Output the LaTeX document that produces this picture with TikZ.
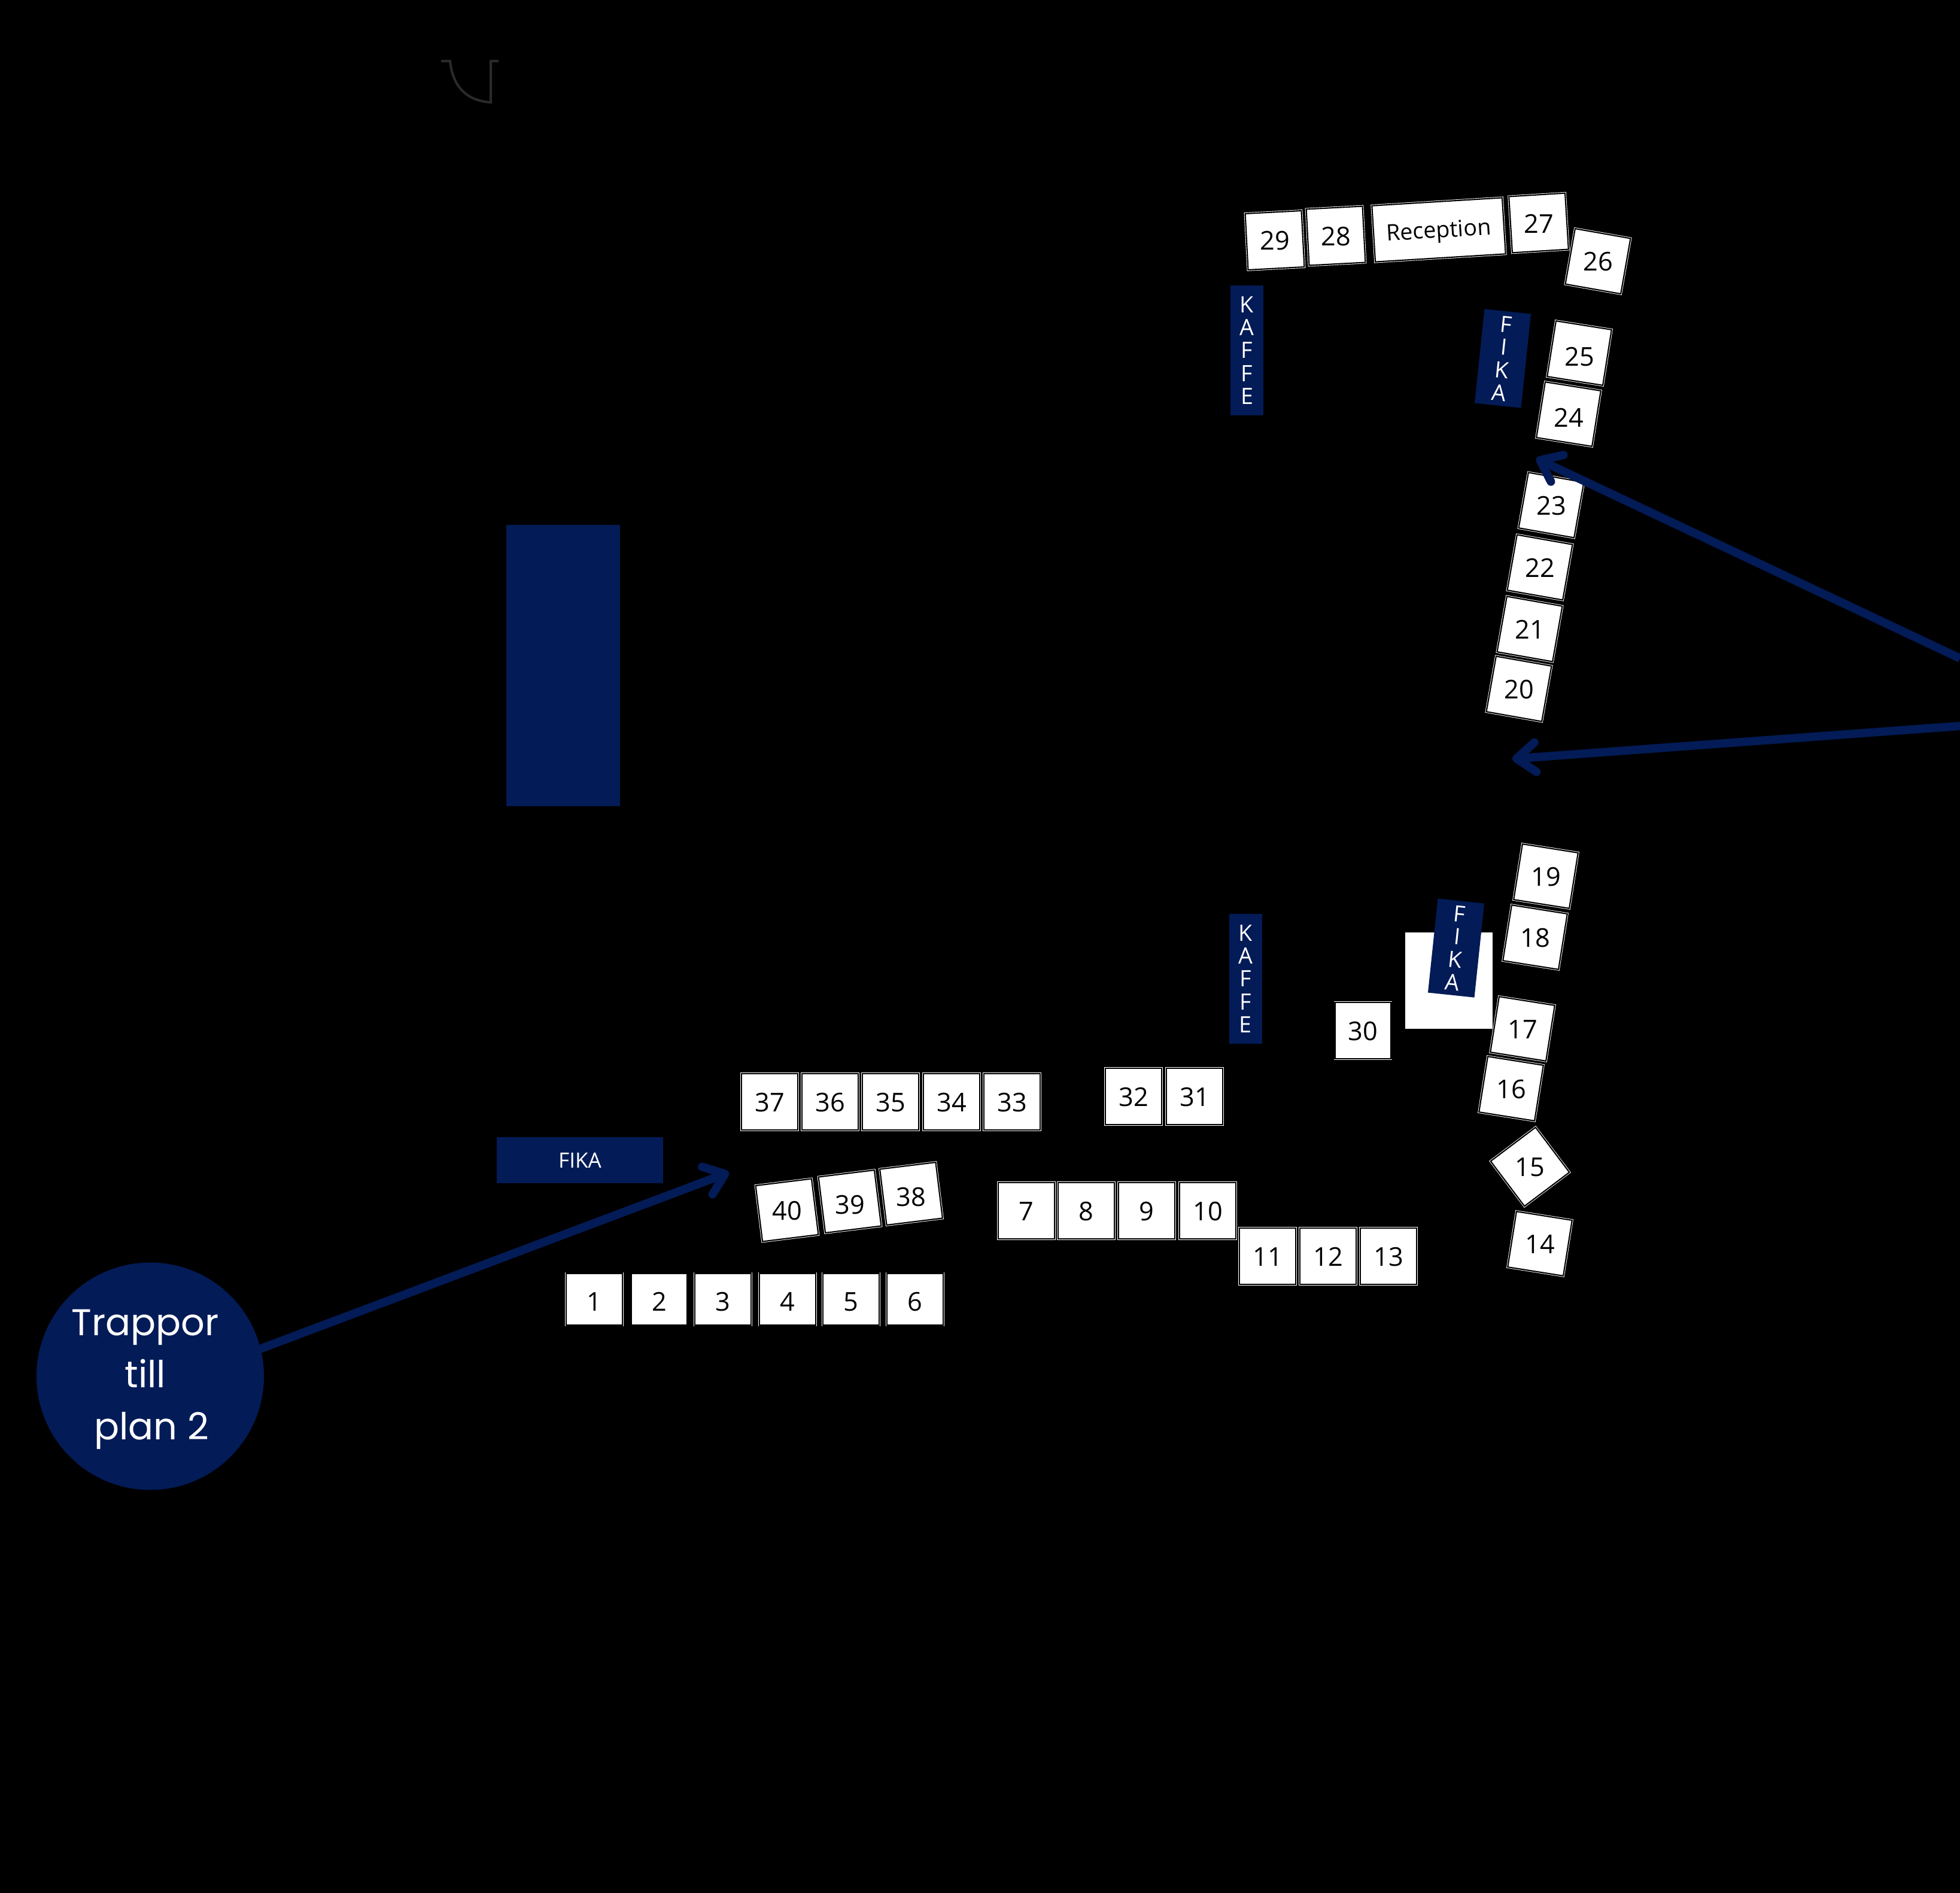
\documentclass[tikz,border=0pt]{standalone}
\usepackage{fontspec}
\setmainfont{Open Sans}
\newfontfamily\trappfont{Poppins}
\usetikzlibrary{arrows.meta, positioning}
\definecolor{fikablue}{RGB}{3, 27, 86}
\definecolor{arcgrey}{RGB}{42, 42, 42}
\def\picwidth{3275}
\def\picheight{3163}
\tikzset{
  stand/.style={rectangle, fill=white, draw=white, double=black, line width=0.25pt, double distance=0.6pt,
    inner sep=0pt, minimum width=9.4mm, minimum height=9.4mm},
  lowstand/.style={stand, minimum height=8.7mm},
  standnr/.style={inner sep=0pt, font=\fontsize{12.3}{14}\selectfont},
  fikabox/.style={rectangle, fill=fikablue, text=white, inner sep=0pt, align=center,
    font=\fontsize{10.7}{10.85}\selectfont},
  pil/.style={draw=fikablue, line width=1.4mm, line cap=round,
    -{Straight Barb[round, length=9pt, width=14pt]}}
}

\begin{document}
\begin{tikzpicture}[x=0.1mm, y=-0.1mm]
  %background and bounding box
    \fill[black] (0,0) rectangle (\picwidth,\picheight);
    \useasboundingbox (0,0) rectangle (\picwidth,\picheight);

    %door arc at the top
    \draw[arcgrey, line width=0.4mm] (737,102) -- (752,102) .. controls (756,140) and (775,168) .. (820,171) -- (820,102) -- (833,102);

    %navy area and white area
    \node[rectangle, fill=fikablue, inner sep=0pt, minimum width=19mm, minimum height=47mm] (omrade) at (941,1112) {};
    \node[rectangle, fill=white, inner sep=0pt, minimum width=14.6mm, minimum height=16.1mm] (vitruta) at (2421,1638.5) {};

    %fika and kaffe
    \node[fikabox, minimum width=5.5mm, minimum height=21.7mm] (kaffe1) at (2083.5,585.5) {K\\A\\F\\F\\E};
    \node[fikabox, minimum width=5.5mm, minimum height=21.7mm] (kaffe2) at (2081,1635.5) {K\\A\\F\\F\\E};
    \node[fikabox, minimum width=7.8mm, minimum height=15.8mm, rotate=-6] (fika1) at (2511,599) {F\\I\\K\\A};
    \node[fikabox, minimum width=7.8mm, minimum height=15.8mm, rotate=-6] (fika2) at (2433,1584) {F\\I\\K\\A};
    \node[fikabox, minimum width=27.8mm, minimum height=7.7mm, font=\fontsize{10}{12}\selectfont] (fika3) at (969,1938.5) {FIKA};

    %stands, number/x/y/rotation, the numbers stay upright
    \foreach \nr/\x/\y in {1/993/2171, 2/1101.5/2171, 3/1208/2171, 4/1316/2171, 5/1422/2171, 6/1529/2171}{
      \node[lowstand] (s\nr) at (\x,\y) {};
      \node[standnr, yshift=-0.4mm] (t\nr) at (s\nr) {\nr};
    }
    \foreach \nr/\x/\y/\r in {7/1715/2023/0, 8/1815/2023/0, 9/1916/2023/0, 10/2018/2023/0,
        11/2118/2099/0, 12/2219/2099/0, 13/2320/2099/0, 14/2573/2078/-9, 15/2556.5/1949.5/37,
        16/2525/1819/-9, 17/2544/1719/-9, 18/2565/1566/-9, 19/2583/1464/-9,
        20/2538/1151/-10, 21/2556/1051/-10, 22/2573/948/-10, 23/2592/844/-10,
        26/2670/436.5/-10, 27/2571/372.5/3.5,
        28/2232/394/3, 29/2130/401.5/3, 30/2277.5/1722/0, 31/1996/1832/0, 32/1894/1832/0,
        33/1691/1841/0, 34/1590/1841/0, 35/1488/1841/0, 36/1387/1841/0, 37/1286/1841/0,
        40/1315/2022/7}{
      \node[stand, rotate=\r] (s\nr) at (\x,\y) {};
      \node[standnr, yshift=-0.1mm] (t\nr) at (s\nr) {\nr};
    }
    \foreach \nr/\x/\y/\r in {24/2621/692/-9, 25/2639/590/-9, 38/1522.5/1994.5/7, 39/1420/2007.5/7}{
      \node[stand, rotate=\r] (s\nr) at (\x,\y) {};
      \node[standnr, yshift=-0.6mm] (t\nr) at (s\nr) {\nr};
    }
    \node[stand, minimum width=21.8mm, rotate=3.5] (reception) at (2404,384) {};
    \node[standnr, rotate=3.5, yshift=-0.4mm, font=\fontsize{10.7}{13}\selectfont] (treception) at (reception) {Reception};

    %stairs and arrows
    \node[circle, fill=fikablue, text=white, inner sep=0pt, minimum size=38mm, align=center,
      font=\trappfont\fontsize{17.7}{24.7}\selectfont] (trappor) at (251,2299.5)
      {\rule{0pt}{5.4mm}Trappor\kern1.6mm\\till\kern1.6mm\\\kern0.4mm plan 2};
    \coordinate (pil1) at (1218,1959);
    \coordinate (pil2) at (2567,766);
    \coordinate (pil3) at (2527,1268);
    \coordinate (kant2) at (\picwidth,1100);
    \coordinate (kant3) at (\picwidth,1213);
    \draw[pil] (trappor.14) -- (pil1);
    \draw[pil, line cap=butt] (kant2) -- (pil2);
    \draw[pil, line cap=butt] (kant3) -- (pil3);
\end{tikzpicture}
\end{document}
